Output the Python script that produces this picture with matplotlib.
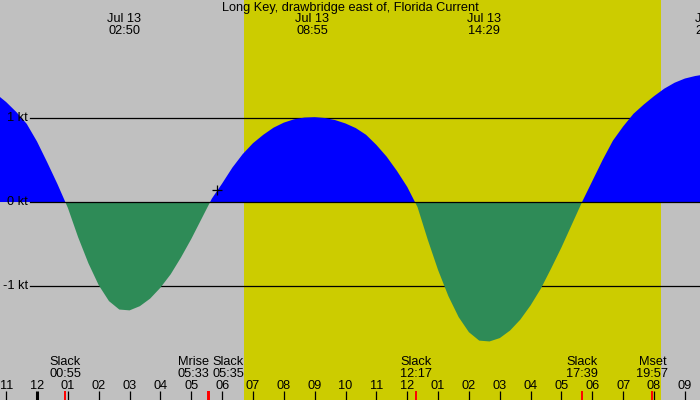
import numpy as np
import matplotlib.pyplot as plt

plt.rcParams['font.family'] = ['Liberation Sans', 'DejaVu Sans']

# minutes after midnight, Jul 13 ; tidal current in knots (every 20 min)
minutes = list(range(-80, 1321, 20))
speed = [1.29, 1.19, 1.07, 0.93, 0.72, 0.47, 0.21, -0.07,
         -0.42, -0.73, -0.99, -1.18, -1.28, -1.29, -1.24, -1.15, -1.02, -0.86, -0.66, -0.44, -0.20,
         0.04, 0.22, 0.41, 0.57, 0.70, 0.80, 0.885, 0.945, 0.985, 1.005, 1.01, 1.00, 0.975, 0.935,
         0.88, 0.80, 0.68, 0.54, 0.37, 0.18,
         -0.06, -0.45, -0.81, -1.12, -1.37, -1.55, -1.65, -1.66, -1.62, -1.53, -1.40, -1.23,
         -1.03, -0.79, -0.54, -0.27, 0.00,
         0.25, 0.50, 0.73, 0.90, 1.05, 1.16, 1.26, 1.35, 1.42, 1.47, 1.50, 1.52, 1.53]

# max / min current (hours)
extreme_times = [2.833, 8.917, 14.483, 21.867]
extreme_labels = ['02:50', '08:55', '14:29', '21:52']
extreme_date = 'Jul 13'

# slack water
slack_times = [0.917, 5.583, 12.283, 17.65]
slack_labels = ['00:55', '05:35', '12:17', '17:39']

# moon rise / set
moon_times = [5.55, 19.95]
moon_names = ['Mrise', 'Mset']
moon_labels = ['05:33', '19:57']

# daylight
sunrise, sunset = 6.72, 20.22
now_time = 5.85

tick_hours = list(range(-1, 22))
tick_labels = ['11', '12', '01', '02', '03', '04', '05', '06', '07', '08', '09', '10',
               '11', '12', '01', '02', '03', '04', '05', '06', '07', '08', '09']
level_ticks = [1, 0, -1]
level_labels = ['1 kt', '0 kt', '-1 kt']

title = 'Long Key, drawbridge east of, Florida Current'

W, H = 700, 400
fig = plt.figure(figsize=(7, 4), dpi=100, facecolor='#c0c0c0')
ax = fig.add_axes([0, 0, 1, 1])
ax.set_facecolor('#c0c0c0')
ax.set_xlim(-1.2, 21.49)
ax.set_ylim(-2.357, 2.405)
ax.axis('off')

ax.axvspan(sunrise, sunset, color='#cccc00', lw=0, zorder=0)

# level lines
for lv in level_ticks:
    if lv != 0:
        ax.axhline(lv, xmin=30 / W, xmax=1, color='k', lw=0.9, zorder=1)
ax.axhline(0, xmin=30 / W, xmax=1, color='k', lw=0.9, zorder=3)

t = np.array(minutes) / 60.0
s = np.array(speed)
ax.fill_between(t, s, 0, where=s >= 0, interpolate=True, color='#0000ff', lw=0, zorder=2)
ax.fill_between(t, s, 0, where=s <= 0, interpolate=True, color='#2e8b57', lw=0, zorder=2)

# now marker
ax.plot([now_time], [np.interp(now_time, t, s)], marker='+', color='k', ms=7, mew=0.9, zorder=4)

fs = 9.2
for lv, lab in zip(level_ticks, level_labels):
    ax.text(28 / W, lv, lab, transform=ax.get_yaxis_transform(), ha='right', va='center',
            fontsize=fs, zorder=5)

xt = ax.get_xaxis_transform()
ax.text(0.5, 1 - 8 / H, title, transform=ax.transAxes, ha='center', va='center', fontsize=fs)

for tm, lab in zip(extreme_times, extreme_labels):
    ax.text(tm, 1 - 19.5 / H, extreme_date, transform=xt, ha='center', va='center', fontsize=fs)
    ax.text(tm, 1 - 31.5 / H, lab, transform=xt, ha='center', va='center', fontsize=fs)

# bottom hour ticks
for h, lab in zip(tick_hours, tick_labels):
    lw = 2.2 if h % 24 == 0 else 0.9
    ax.plot([h, h], [0, 9 / H], transform=xt, color='k', lw=lw, solid_capstyle='butt', zorder=5)
    ax.text(h, 1 - 386 / H, lab, transform=xt, ha='center', va='center', fontsize=fs)

# event labels
events = []
for tm, lab in zip(slack_times, slack_labels):
    events.append((tm, 'Slack', lab))
for tm, name, lab in zip(moon_times, moon_names, moon_labels):
    events.append((tm, name, lab))
events.sort()

for i, (tm, name, lab) in enumerate(events):
    ha, dx = 'center', 0
    if i + 1 < len(events) and events[i + 1][0] - tm < 0.5:
        ha, dx = 'right', 1
    elif i > 0 and tm - events[i - 1][0] < 0.5:
        ha, dx = 'left', 3
    ax.plot([tm, tm], [0, 9 / H], transform=xt, color='red', lw=1.4, solid_capstyle='butt', zorder=6)
    ax.annotate(name, (tm, 1 - 362 / H), xycoords=xt, xytext=(dx, 0), textcoords='offset pixels',
                ha=ha, va='center', fontsize=fs)
    ax.annotate(lab, (tm, 1 - 374 / H), xycoords=xt, xytext=(dx, 0), textcoords='offset pixels',
                ha=ha, va='center', fontsize=fs)

fig.savefig('out.png', dpi=100, facecolor=fig.get_facecolor())
